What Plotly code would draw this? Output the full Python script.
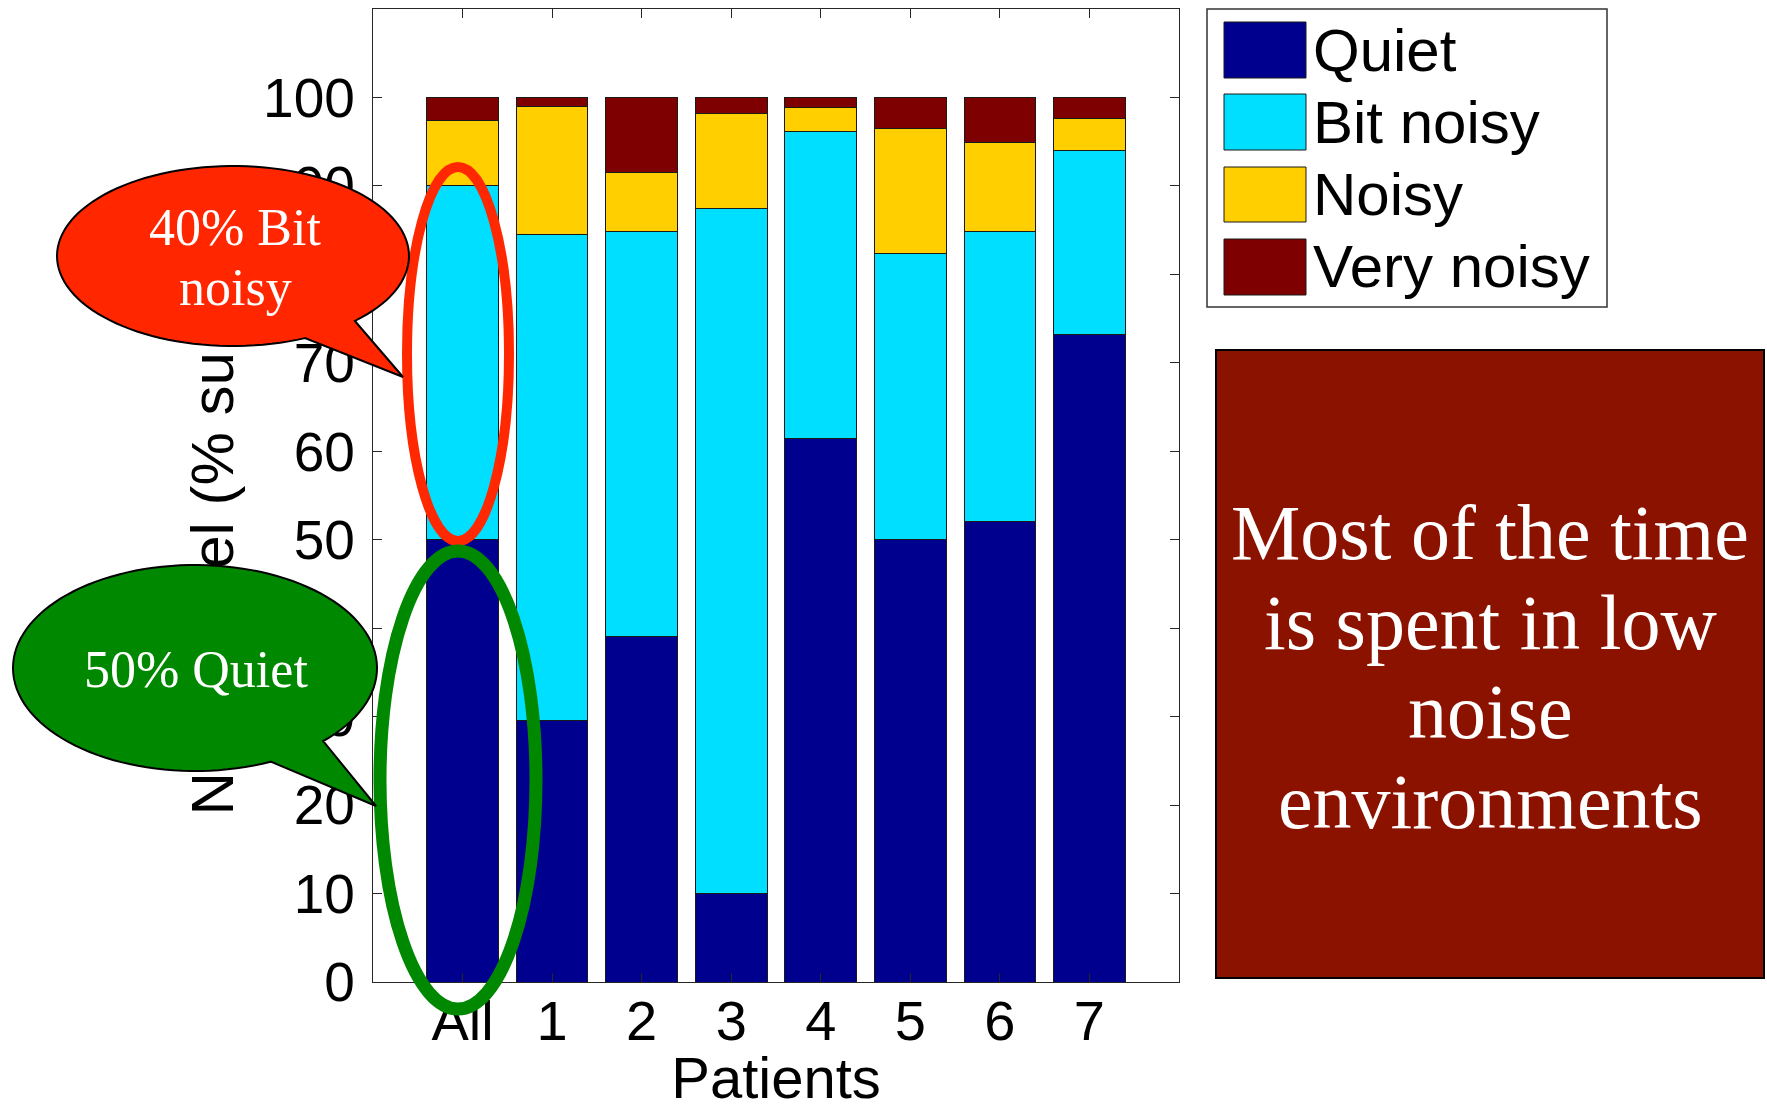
import numpy as np
import plotly.graph_objects as go

# ---------------- data ----------------
categories = ["All", "1", "2", "3", "4", "5", "6", "7"]
series_names = ["Quiet", "Bit noisy", "Noisy", "Very noisy"]
quiet = [50.0, 29.6, 39.1, 10.0, 61.5, 50.0, 52.1, 73.2]
bit_noisy = [40.0, 54.9, 45.8, 77.4, 34.6, 32.4, 32.7, 20.8]
noisy = [7.4, 14.5, 6.6, 10.8, 2.8, 14.1, 10.1, 3.6]
very_noisy = [2.6, 1.0, 8.5, 1.8, 1.1, 3.5, 5.1, 2.4]
y_ticks = [0, 10, 20, 30, 40, 50, 60, 70, 80, 90, 100]
x_title = "Patients"
y_title_parts = ["N", "oise lev", "el (% su", "bjects)"]  # "Noise level (% subjects)"
note_lines = ["Most of the time", "is spent in low", "noise", "environments"]
red_note = ["40% Bit", "noisy"]
green_note = ["50% Quiet"]

# ---------------- style ----------------
colors = ["#00008F", "#00DFFF", "#FFCF00", "#7F0000"]
W, H = 1767, 1110
L, R, T, B = 373, 1179, 9, 982
SANS = "Liberation Sans, Arial, sans-serif"
SERIF = "Liberation Serif, Times New Roman, serif"


def px(x):
    return (x - L) / (R - L)


def py(y):
    return (B - y) / (B - T)


fig = go.Figure()
for name, vals, col in zip(series_names, [quiet, bit_noisy, noisy, very_noisy], colors):
    fig.add_trace(go.Bar(
        x=categories, y=vals, name=name,
        marker=dict(color=col, line=dict(color="#1a1a1a", width=1)),
        showlegend=False,
    ))

shapes = []
annotations = []


def bubble_path(cx, cy, rx, ry, a, b, tip, n=120):
    ta = np.arctan2((a[1] - cy) / ry, (a[0] - cx) / rx)
    tb = np.arctan2((b[1] - cy) / ry, (b[0] - cx) / rx)
    if tb < ta:
        tb += 2 * np.pi
    ts = np.linspace(tb, ta + 2 * np.pi, n)
    pts = [(cx + rx * np.cos(t), cy + ry * np.sin(t)) for t in ts]
    pts.append(tip)
    d = "M " + " L ".join(f"{px(x):.5f},{py(y):.5f}" for x, y in pts) + " Z"
    return d


# outline ellipses
shapes.append(dict(type="circle", xref="paper", yref="paper",
                   x0=px(407), x1=px(509), y0=py(167), y1=py(541),
                   line=dict(color="#FF2800", width=10), fillcolor="rgba(0,0,0,0)", layer="above"))
shapes.append(dict(type="circle", xref="paper", yref="paper",
                   x0=px(380), x1=px(536), y0=py(551), y1=py(1009),
                   line=dict(color="#008800", width=13), fillcolor="rgba(0,0,0,0)", layer="above"))

# speech bubbles
shapes.append(dict(type="path", xref="paper", yref="paper",
                   path=bubble_path(233, 256, 176, 90, (355, 321), (304, 337), (403, 377)),
                   fillcolor="#FF2600", line=dict(color="black", width=2), layer="above"))
shapes.append(dict(type="path", xref="paper", yref="paper",
                   path=bubble_path(195, 668, 182, 103, (323, 741), (271, 762), (376, 806)),
                   fillcolor="#008800", line=dict(color="black", width=2), layer="above"))

for i, (txt, yc) in enumerate(zip(red_note, [228, 287])):
    annotations.append(dict(text=txt, xref="paper", yref="paper", x=px(235), y=py(yc),
                            xanchor="center", yanchor="middle", showarrow=False,
                            font=dict(family=SERIF, size=52, color="white")))
annotations.append(dict(text=green_note[0], xref="paper", yref="paper", x=px(196), y=py(669),
                        xanchor="center", yanchor="middle", showarrow=False,
                        font=dict(family=SERIF, size=52, color="white")))

# right note box
shapes.append(dict(type="rect", xref="paper", yref="paper",
                   x0=px(1216), x1=px(1764), y0=py(350), y1=py(978),
                   fillcolor="#8C1200", line=dict(color="black", width=2), layer="above"))
for txt, yc in zip(note_lines, [532, 622, 712, 801]):
    annotations.append(dict(text=txt, xref="paper", yref="paper", x=px(1490), y=py(yc),
                            xanchor="center", yanchor="middle", showarrow=False,
                            font=dict(family=SERIF, size=78, color="white")))

# legend box (drawn manually to match the large swatches)
shapes.append(dict(type="rect", xref="paper", yref="paper",
                   x0=px(1207), x1=px(1607), y0=py(9), y1=py(307),
                   fillcolor="white", line=dict(color="#333333", width=1.5), layer="above"))
rows = [(22, 78), (94, 150), (167, 222), (239, 295)]
for name, col, (y0, y1) in zip(series_names, colors, rows):
    shapes.append(dict(type="rect", xref="paper", yref="paper",
                       x0=px(1224), x1=px(1306), y0=py(y0), y1=py(y1),
                       fillcolor=col, line=dict(color="#1a1a1a", width=1), layer="above"))
    annotations.append(dict(text=name, xref="paper", yref="paper", x=px(1311), y=py((y0 + y1) / 2),
                            xanchor="left", yanchor="middle", showarrow=False,
                            font=dict(family=SANS, size=60, color="black")))

hid = '<span style="color:rgba(0,0,0,0)">{}</span>'
y_title = (y_title_parts[0] + hid.format(y_title_parts[1]) + y_title_parts[2]
           + hid.format(y_title_parts[3]))

fig.update_layout(
    template="none",
    width=W, height=H,
    margin=dict(l=L, r=W - R, t=T, b=H - B, pad=0),
    paper_bgcolor="white", plot_bgcolor="white",
    barmode="stack", bargap=0.2,
    font=dict(family=SANS, size=56, color="black"),
    shapes=shapes, annotations=annotations,
    showlegend=False,
    xaxis=dict(type="category", range=[-1, 8], automargin=False,
               showline=True, mirror="ticks", linecolor="#262626", linewidth=1.3,
               ticks="inside", ticklen=9, tickcolor="#262626", tickwidth=1.2,
               showgrid=False, zeroline=False, ticklabelstandoff=-10,
               tickfont=dict(size=56, family=SANS),
               title=dict(text=x_title, font=dict(size=58, family=SANS), standoff=22)),
    yaxis=dict(range=[0, 110], automargin=False, tickvals=y_ticks,
               showline=True, mirror="ticks", linecolor="#262626", linewidth=1.3,
               ticks="inside", ticklen=9, tickcolor="#262626", tickwidth=1.2,
               showgrid=False, zeroline=False, ticklabelstandoff=6,
               tickfont=dict(size=55, family=SANS),
               title=dict(text=y_title, font=dict(size=60, family=SANS), standoff=10)),
)

fig.write_html("out.html")
